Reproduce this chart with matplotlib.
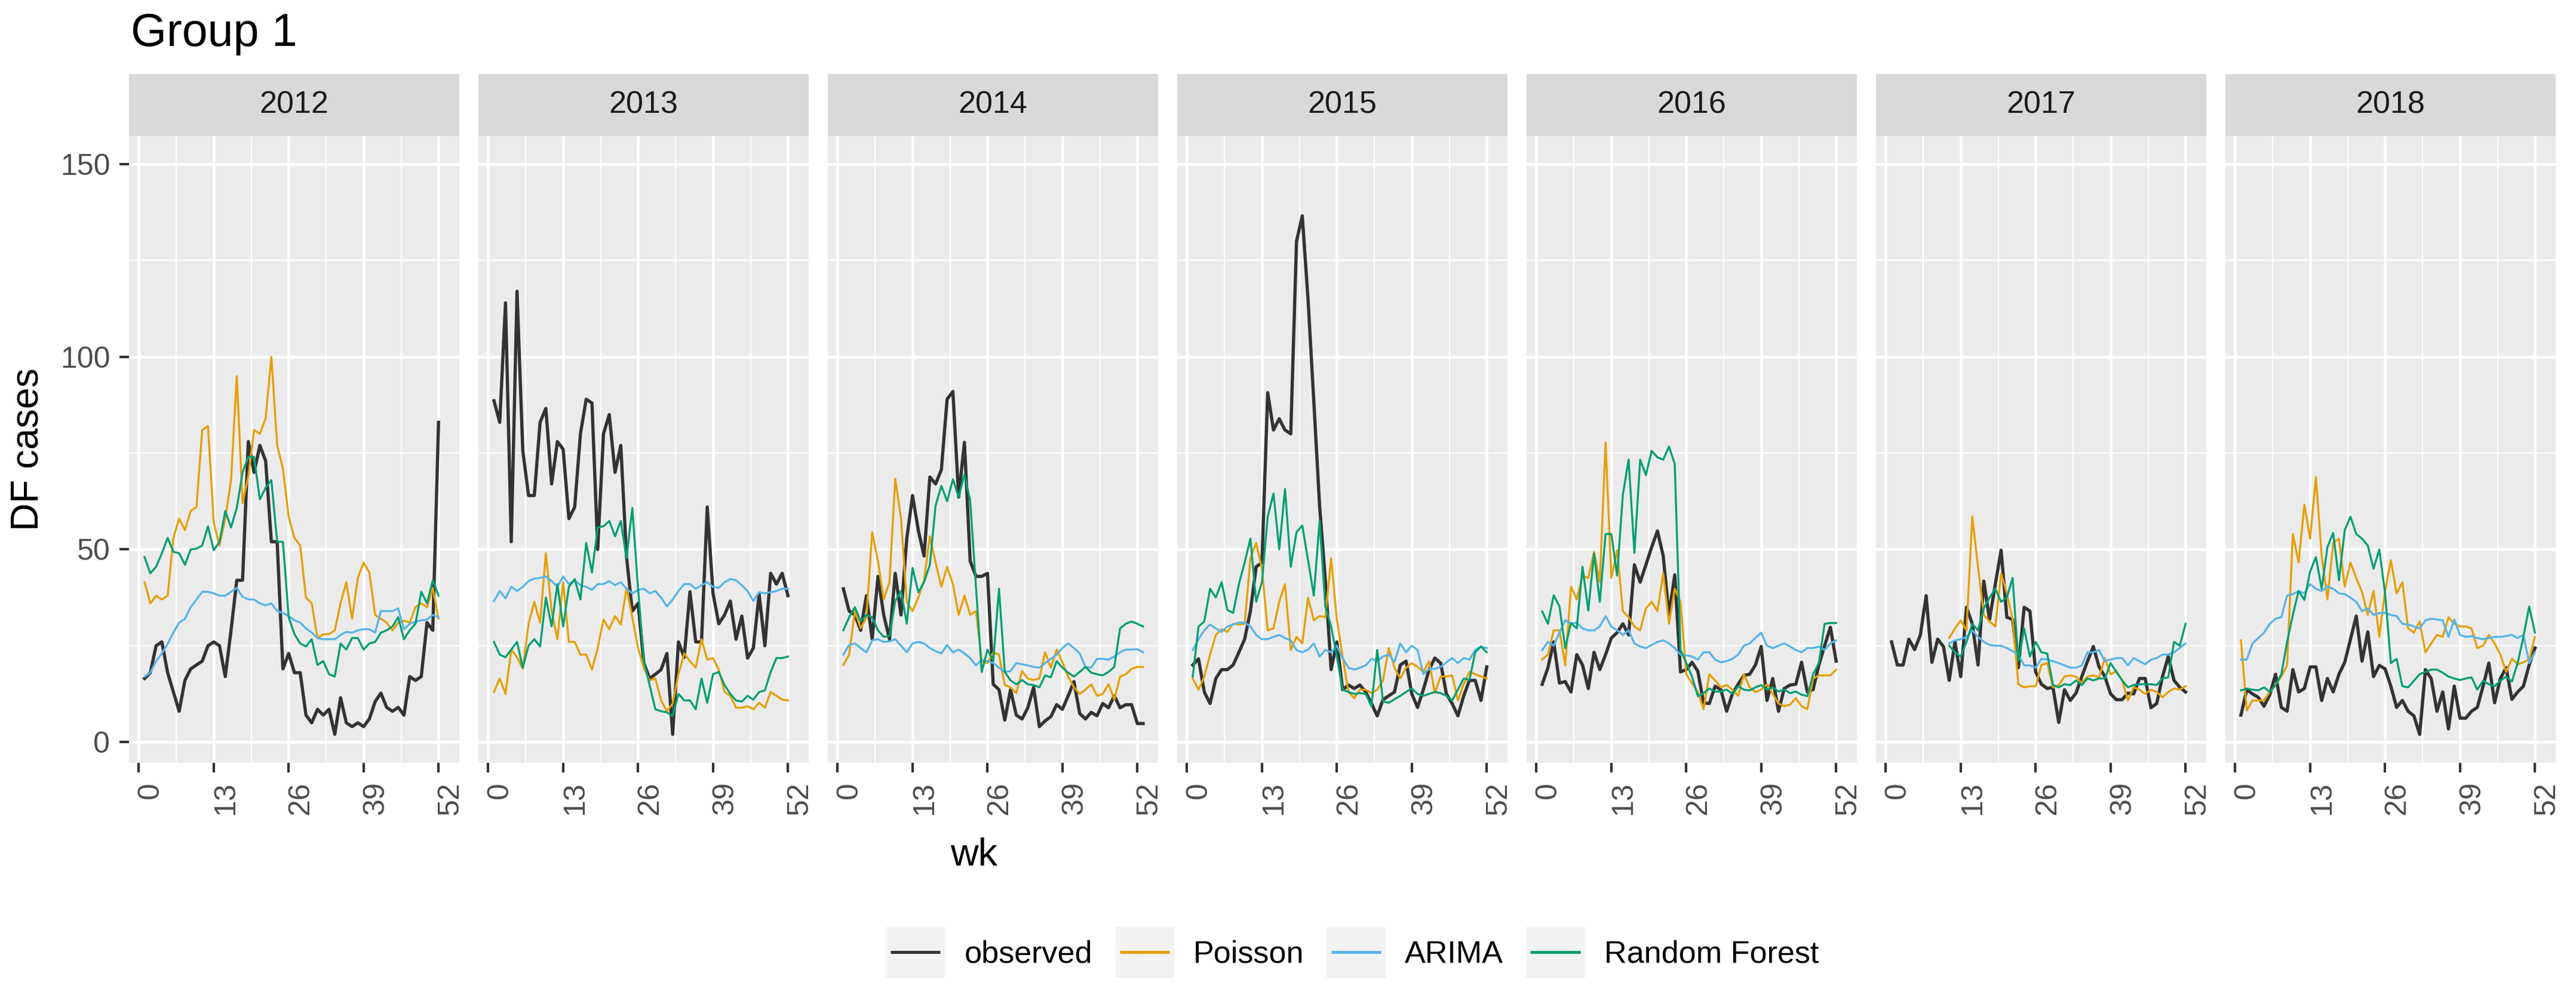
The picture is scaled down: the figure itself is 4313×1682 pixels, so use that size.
import numpy as np
import matplotlib
matplotlib.use("Agg")
import matplotlib.pyplot as plt
from matplotlib.lines import Line2D
from matplotlib.patches import Rectangle
from matplotlib.legend_handler import HandlerLine2D
from matplotlib.transforms import ScaledTranslation

plt.rcParams['font.family'] = ['Liberation Sans', 'DejaVu Sans']

# ---- data (weekly DF cases) ----
years = [2012, 2013, 2014, 2015, 2016, 2017, 2018]
series_names = ['observed', 'Poisson', 'ARIMA', 'Random Forest']
series_colors = ['#333333', '#E69F00', '#56B4E9', '#009E73']
series_widths = [1.3, 0.8, 0.8, 0.8]

observed_2012 = [16.5, 18, 25, 26, 18, 13, 8, 16, 19, 20, 21, 25, 26, 25, 17, 29, 42, 42, 78, 70,
                 77, 73, 52, 52, 19, 23, 18, 18, 7, 5, 8.5, 7, 8.5, 2, 11.5, 5, 4, 5, 4, 6,
                 10.5, 12.7, 9, 8, 9, 7, 17, 16, 17, 31, 29, 83]
poisson_2012 = [41.5, 36, 38, 37, 38, 53, 58, 55, 60, 61, 81, 82, 57, 51, 58, 68, 95, 62, 69, 81,
                80, 84, 100, 77, 71, 58.5, 53, 51, 37.5, 36, 27, 28, 28, 29, 36, 41.5, 32, 42.6, 46.6, 44,
                33, 32, 31, 29, 31, 31.5, 31, 35, 36, 35, 40, 32]
arima_2012 = [17, 18, 21, 23, 25.5, 28.4, 31, 32, 35, 37, 39, 39, 38.6, 38, 38, 39, 40, 37.7, 37, 37,
              36, 35.5, 36, 34, 33.5, 32.7, 31.6, 31, 29.5, 28.4, 27, 26.7, 26.7, 26.7, 27.8, 28.6, 28.4, 29, 29.3, 29.3,
              28.4, 34, 34, 34, 34.7, 29.3, 30.7, 31.2, 31.6, 31.8, 33, 32.4]
rf_2012 = [48, 43.8, 45.5, 49, 53, 49.4, 49, 46, 50, 50.2, 51, 56, 49.8, 52, 60, 55.7, 60.8, 70, 74, 74,
           63, 66, 68, 52, 52, 32.4, 28, 25.6, 24.8, 26.7, 20, 21, 17.6, 17, 25.6, 24, 27, 27, 24, 25.6,
           26, 28.4, 29, 30, 32.4, 26.7, 29, 30.7, 39, 36, 42, 38]

observed_2013 = [88.6, 83, 114, 52, 117, 75.6, 64, 64, 83, 86.6, 67, 78, 76, 58, 61, 80, 89, 88, 50, 80,
                 85, 70, 77, 48, 34, 36, 20.5, 16.5, 17.6, 18.8, 23, 2, 26, 22, 39, 26, 26, 61, 38.6, 30.7,
                 33, 36.6, 26.7, 32.7, 21.8, 24.4, 38.4, 25, 43.8, 41, 43.8, 38]
poisson_2013 = [13, 16.5, 12.5, 24, 22, 19, 30.7, 36.4, 31, 49, 34, 26.7, 41.5, 26, 26, 22.7, 22.7, 18.8, 24.4, 31.8,
                29.3, 32.7, 30.5, 40, 32.4, 24.4, 19.3, 16, 16.5, 10.8, 8, 10, 17.6, 23, 21, 19.3, 26.7, 21.4, 21.8, 18.8,
                13, 12, 8.9, 8.9, 9.3, 8.5, 10.2, 8.9, 13, 12, 11, 10.8]
arima_2013 = [36.6, 39.2, 37.3, 40.3, 39.2, 40.3, 41.8, 42.4, 42.6, 43, 41.8, 40.3, 43, 41, 42, 40.7, 40.3, 39.5, 41, 41,
              41.8, 40.7, 41.5, 39.8, 38.6, 39.5, 39.8, 38.6, 39.2, 37.5, 35.2, 37, 39.2, 41, 41, 39.8, 40.7, 41.5, 40.3, 40,
              41.5, 42.3, 42, 40.7, 39.2, 36.6, 38.9, 38.6, 38.9, 39.2, 39.8, 39.8]
rf_2013 = [26, 22.7, 22, 24, 26, 19.3, 25, 26.7, 24.8, 37.5, 30, 41, 30, 40.3, 42.3, 37, 51.7, 44, 55.7, 56,
           57.4, 53.4, 57.4, 47.7, 60.8, 39.8, 21, 14.8, 8.5, 8, 7.7, 6.8, 12.5, 10.8, 10.8, 8.5, 16.5, 10.2, 17.6, 18.2,
           14.8, 12.5, 10.8, 10.5, 12, 11, 13, 13.4, 18.2, 21.8, 21.8, 22.2]

observed_2014 = [39.8, 34, 33, 29, 38, 26.7, 43, 33, 26.7, 43.8, 33, 52.8, 64, 55, 48.3, 68.8, 67, 70.7, 89, 91,
                 63.6, 77.8, 47, 43, 43, 43.8, 15, 13.6, 5.7, 13.6, 7, 6, 8.9, 14.2, 4, 5.5, 6.6, 9.7, 8.5, 12,
                 15.7, 7.4, 6, 7.7, 6.8, 10, 8.9, 12, 8.9, 9.7, 9.7, 4.8, 4.8]
poisson_2014 = [20, 22.7, 34, 29.5, 32.4, 54.5, 47, 37, 41.5, 68.4, 58, 36.4, 34, 37.5, 42, 53.4, 46.6, 40.3, 45.5, 41,
                33, 38, 33, 34, 21, 20.5, 23.3, 22.7, 14.8, 14.2, 12.7, 18.4, 16.5, 16.1, 16.5, 23.3, 19.3, 24, 20.7, 17,
                14.2, 12.5, 13.6, 15, 12, 12.5, 15, 11, 17, 17.6, 19, 19.5, 19.5]
arima_2014 = [22.7, 25.2, 25.6, 24.4, 23.3, 26.4, 26.7, 26, 26.1, 26.7, 25, 23.3, 25.6, 26, 25.6, 24.4, 23.6, 23, 25.2, 23.3,
              24, 23, 21.8, 19.9, 21.4, 21, 20.5, 19.3, 18.2, 18.4, 20.5, 20.2, 19.9, 19.5, 19.3, 20.5, 21.6, 22.7, 24.4, 25.6,
              24.4, 23, 19.5, 19.3, 21.6, 21.6, 21.4, 22.2, 23.3, 24, 24, 24.1, 23.3]
rf_2014 = [29, 32.4, 35, 31.3, 33, 32.4, 29, 27.3, 27.5, 36.6, 39.2, 30.7, 45.2, 38.9, 41.5, 46, 61.4, 66.5, 62.5, 68.2,
           63.6, 69.5, 62.7, 40.3, 18.2, 24, 21, 39.8, 18.2, 16, 15, 16.1, 15, 14.8, 14.2, 17.3, 16.8, 21, 19.3, 18,
           17, 18.2, 19.5, 18, 17.6, 17.3, 18.2, 19.5, 29.5, 30.7, 31.3, 30.7, 30]

observed_2015 = [20, 21.6, 13, 10, 16.5, 18.8, 18.8, 20, 23.3, 26.7, 34, 45.5, 46.6, 90.7, 81, 83.9, 81, 80, 130, 136.6,
                 114.8, 88.4, 61.4, 42, 18.8, 26, 13.6, 14.8, 13.9, 14.8, 13, 10, 6.8, 11, 12, 13, 20, 21, 12.5, 9,
                 13.6, 18.8, 21.8, 20.5, 12.5, 10, 6.8, 12, 16, 16, 10.8, 19.5]
poisson_2015 = [16.5, 13.6, 17, 22.7, 27.8, 29.3, 28.6, 30.7, 30.5, 30.7, 47.7, 51.7, 45, 29, 29.5, 36.4, 41, 23.9, 27.3, 25.6,
                37.5, 31.6, 32.7, 32.4, 47.7, 31.8, 22.2, 13, 11.4, 13.6, 13.6, 12.7, 13.6, 16, 24.4, 19.3, 16.5, 19.3, 20.5, 19.5,
                18.2, 21, 12.7, 17, 17, 17.3, 10.8, 15, 18.2, 17.6, 17, 16.5]
arima_2015 = [23.9, 26.7, 29, 30.5, 29.5, 28.6, 30, 30.5, 31, 31, 30, 27.8, 26.7, 26.7, 27.3, 27.8, 27, 26.4, 23.9, 23.3,
              24, 25.6, 22.2, 23.9, 23.3, 25, 21.8, 19.3, 18.8, 19.3, 19.9, 21.6, 21, 22.2, 22.7, 20.8, 25.6, 23.3, 25, 23.9,
              17.6, 19, 19, 19.5, 20.7, 21.8, 20.5, 21.8, 21.4, 23.9, 24.8, 24.4]
rf_2015 = [17, 30, 31.3, 39.8, 37.5, 41.5, 34.3, 33.5, 41, 46.6, 52.8, 36.4, 41.5, 58.5, 64.5, 50, 65.7, 45.5, 54.5, 56.2,
           47.2, 38, 57.4, 35.2, 30, 22.2, 13.6, 13, 12.5, 12.7, 12.5, 9.3, 23.9, 10.5, 10.2, 11.1, 12, 13, 13.9, 12.5,
           12, 12.5, 13, 12.7, 12, 10.8, 13.6, 16.5, 16.1, 23.3, 24.8, 23.3]

observed_2016 = [15, 19.3, 26, 15.3, 15.7, 13, 22.7, 20, 13.9, 23.3, 18.8, 22.7, 27, 28.4, 30.7, 27.8, 46, 41.5, 46, 50.6,
                 54.8, 48.3, 33, 43.4, 18.2, 18.8, 20.7, 18.4, 10.2, 10, 14.5, 13.6, 8, 12.5, 15, 17.3, 17.6, 20, 24.8, 10.8,
                 16.5, 8, 13.9, 14.8, 15, 20.7, 13, 13.6, 20, 25, 29.8, 21]
poisson_2016 = [21.4, 22.7, 29, 29, 19.9, 40.3, 37, 43.2, 42.6, 49.4, 41.5, 77.8, 42.6, 49.8, 34, 32.4, 30, 29, 34.7, 36.4,
                34, 43.8, 30.7, 39.8, 36.4, 17.6, 15.3, 13, 8.5, 17.6, 16, 14.2, 14.8, 13.6, 12, 17.6, 14.2, 13, 13.6, 15,
                12.5, 10, 9.3, 9.7, 11.4, 9.3, 8.5, 16.5, 17.3, 17.3, 17.3, 18.8]
arima_2016 = [23.9, 26, 25, 28.4, 31.6, 30.7, 31, 29.5, 29, 29, 30, 32.7, 30, 29, 27.8, 29, 25.6, 24.8, 24.4, 25.2,
              26, 26.4, 25.6, 24.4, 22.7, 22.5, 22.2, 21.4, 23.3, 23.3, 21.4, 20.7, 21, 21.6, 22.7, 25, 25.6, 27, 28.4, 25,
              24.4, 25, 25.6, 24.8, 23.9, 23.3, 24.4, 24.4, 24.8, 23.9, 25.6, 26.4]
rf_2016 = [33.9, 30.7, 38.1, 35.2, 24.4, 30.9, 29.5, 45.5, 34.1, 48.9, 36.4, 54, 54, 43.2, 64.2, 73.3, 49.1, 73.3, 69.3, 75.6,
           73.9, 73.3, 76.7, 72.2, 23.9, 20.5, 17, 11.9, 12.7, 13.9, 13.1, 13.1, 13.6, 12.5, 14.5, 13.6, 13.4, 14.2, 14.8, 13.6,
           14.2, 13.1, 13.6, 12.7, 13.1, 12.3, 11.9, 17.6, 20.5, 30.7, 30.9, 30.9]

observed_2017 = [26, 20, 20, 26.7, 24, 27.8, 38, 20.7, 26.7, 24.8, 16, 26, 17, 35, 30.7, 20, 41.8, 31.8, 41, 49.8,
                 32.4, 31.8, 19.3, 35, 34, 18.2, 15, 13.9, 14.2, 5.1, 13.6, 10.8, 12.7, 17, 21, 24.8, 19.5, 17, 12.5, 11,
                 11, 12.7, 12.5, 16.5, 16.5, 8.9, 10, 17, 22.2, 16, 14.2, 13]
# model forecasts for 2017 start at week 11
poisson_2017 = [27, 29.5, 31.6, 29, 58.5, 45.5, 33, 31.3, 30, 43.8, 38.6, 31.8, 15, 14.2, 14.5, 14.5, 20, 20.5, 14.2, 14.8,
                17, 17.3, 17, 15.3, 17, 17.3, 16.8, 21.8, 17.6, 18.4, 16, 10.8, 14.2, 13.6, 12.5, 13.6, 13, 11.6, 13, 13.9,
                13.6, 14.5]
arima_2017 = [25.6, 26.4, 26.7, 27.3, 29, 27.3, 26, 25.2, 25, 25, 24.4, 23.6, 22.7, 19.9, 19.9, 19.3, 21.6, 21.4, 21, 20.5,
              19.9, 19.3, 19.3, 19.9, 23.3, 23.3, 23.9, 21, 21.4, 21.8, 21.8, 19.9, 21.8, 21, 20.2, 21.4, 21.8, 22.7, 22.7, 23.3,
              24.4, 25.6]
rf_2017 = [25, 23.3, 22.2, 26, 30.7, 29, 34.7, 37.5, 39.8, 36.4, 37.5, 42.6, 21, 29.5, 22.2, 26, 23.3, 23, 14.8, 14.2,
           15, 14.8, 16, 14.8, 16.5, 16, 16.5, 16.5, 20.5, 18.2, 16, 14.2, 14.8, 15, 15, 15, 14.8, 16.5, 16.8, 26,
           25, 30.7]

observed_2018 = [7, 13.6, 12.5, 11.6, 9.3, 12.3, 17.6, 9, 8, 18.8, 13, 13.9, 19.5, 19.5, 10.8, 16.5, 13, 17.6, 20.7, 26.7,
                 32.7, 21, 28.6, 17, 19.9, 19, 14.5, 9, 10.8, 8, 6.8, 2, 18.8, 16.5, 8, 13, 3.4, 14.5, 6.2, 6.2,
                 8, 9, 14.5, 20.5, 10.2, 16.5, 19.3, 11.1, 13, 14.5, 20, 24.4]
poisson_2018 = [26.4, 8.2, 10.8, 10.8, 10.8, 13, 14.8, 17, 19.9, 54, 46.6, 61.6, 52.8, 68.8, 48.3, 37, 51.7, 52.8, 40.3, 46.6,
                42.6, 38.9, 33, 39.2, 27.3, 39.2, 47.2, 38.6, 41.5, 29.5, 28.4, 31.3, 23.3, 25.6, 27.8, 27.3, 32.4, 30.7, 30, 30,
                29.5, 24.4, 25, 27.8, 25.6, 22.7, 18.2, 21.6, 20.2, 20.7, 21.4, 27.3]
arima_2018 = [21.4, 21.4, 25.6, 27, 28.4, 30.7, 32, 32.4, 38, 38.4, 39.2, 38.6, 41, 39.8, 39.2, 40.3, 39.8, 38.6, 38.4, 37.5,
              36.4, 34, 34.7, 33, 33.5, 33.5, 33, 32.7, 30.7, 30.5, 30, 29.5, 31.6, 32, 31.8, 31.6, 27.3, 31.8, 27.8, 27.3,
              27.5, 27, 26.7, 27, 27.3, 27.3, 27.5, 27.8, 27, 27.8, 20.5, 23.3]
rf_2018 = [13.4, 13.9, 13.6, 13.4, 14.2, 13, 14.8, 17.6, 26, 33, 39.2, 36.9, 44.3, 48, 39.8, 50.6, 54.3, 42, 55, 58.5,
           54, 52.8, 51, 45, 50, 38.6, 20.5, 21.6, 14.5, 14.2, 15.9, 17.6, 18.2, 18.8, 18.8, 18, 17, 16.5, 16.1, 16.5,
           16.8, 13.6, 15.9, 15, 14.5, 15.9, 17, 15.7, 20.5, 27.3, 35.2, 28.4]

panel_data = {
    2012: [observed_2012, poisson_2012, arima_2012, rf_2012],
    2013: [observed_2013, poisson_2013, arima_2013, rf_2013],
    2014: [observed_2014, poisson_2014, arima_2014, rf_2014],
    2015: [observed_2015, poisson_2015, arima_2015, rf_2015],
    2016: [observed_2016, poisson_2016, arima_2016, rf_2016],
    2017: [observed_2017, poisson_2017, arima_2017, rf_2017],
    2018: [observed_2018, poisson_2018, arima_2018, rf_2018],
}
x_ticks = [0, 13, 26, 39, 52]
y_ticks = [0, 50, 100, 150]

# ---- layout (pixels of the 4313x1682 output) ----
W, H = 4313, 1682
fig = plt.figure(figsize=(W / 300, H / 300), dpi=300)

panel_left, panel_w, panel_gap = 216, 553, 32
panel_top, panel_bot = 228, 1278
strip_top = 124


class KeyBox(HandlerLine2D):
    """legend key drawn ggplot-style: grey square with a line on it"""
    def create_artists(self, legend, orig_handle, xdescent, ydescent,
                       width, height, fontsize, trans):
        pad = 0.35 * height
        box = Rectangle((-xdescent, -ydescent - pad), width, height + 2 * pad,
                        facecolor='#F2F2F2', edgecolor='none', transform=trans)
        y = -ydescent + height / 2
        ln = Line2D([-xdescent + 0.08 * width, -xdescent + 0.92 * width], [y, y],
                    color=orig_handle.get_color(), lw=1.2, transform=trans,
                    solid_capstyle='butt')
        return [box, ln]


for i, yr in enumerate(years):
    x0 = panel_left + i * (panel_w + panel_gap)
    ax = fig.add_axes([x0 / W, 1 - panel_bot / H, panel_w / W, (panel_bot - panel_top) / H])
    ax.set_facecolor('#EBEBEB')
    for s in ax.spines.values():
        s.set_visible(False)

    for k, vals in enumerate(panel_data[yr]):
        start = 1
        if yr == 2017 and k > 0:
            start = 11
        wk = np.arange(start, start + len(vals))
        ax.plot(wk, vals, color=series_colors[k], lw=series_widths[k],
                solid_joinstyle='round', zorder=3)

    ax.set_xlim(-1.7, 55.6)
    ax.set_ylim(-5.4, 157.3)
    ax.set_xticks(x_ticks)
    ax.set_xticks([6.5, 19.5, 32.5, 45.5], minor=True)
    ax.set_yticks(y_ticks)
    ax.set_yticks([25, 75, 125], minor=True)
    ax.grid(which='major', color='white', lw=1.1)
    ax.grid(which='minor', color='white', lw=0.55)
    ax.set_axisbelow(True)
    ax.tick_params(which='major', length=3.8, width=1.0, color='#333333',
                   labelsize=12, labelcolor='#4D4D4D', pad=3.8)
    ax.tick_params(which='minor', length=0)
    ax.set_xticklabels([str(t) for t in x_ticks], rotation=90, va='top', ha='center')
    off = ScaledTranslation(20 / 300, 0, fig.dpi_scale_trans)
    for lab in ax.get_xticklabels():
        lab.set_transform(lab.get_transform() + off)
    if i == 0:
        ax.set_yticklabels([str(t) for t in y_ticks])
    else:
        ax.tick_params(axis='y', which='both', left=False, labelleft=False)

    # facet strip
    sax = fig.add_axes([x0 / W, 1 - panel_top / H, panel_w / W, (panel_top - strip_top) / H])
    sax.set_facecolor('#D9D9D9')
    sax.set_xticks([])
    sax.set_yticks([])
    for s in sax.spines.values():
        s.set_visible(False)
    sax.text(0.5, 0.5, str(yr), ha='center', va='center', fontsize=12.5,
             color='#1A1A1A', transform=sax.transAxes)

fig.text(219 / W, 1 - 77 / H, 'Group 1', fontsize=18.5, va='baseline', ha='left')
fig.text(47 / W, 1 - 753 / H, 'DF cases', fontsize=15.5, rotation=90, ha='center', va='center')
fig.text(1631 / W, 1 - 1433 / H, 'wk', fontsize=15.5, ha='center', va='center')

handles = [Line2D([], [], color=c, lw=w) for c, w in zip(series_colors, series_widths)]
fig.legend(handles, series_names, loc='center', bbox_to_anchor=(0.525, 0.0505),
           ncol=4, frameon=False, fontsize=12.5, handlelength=1.9, handleheight=1.1,
           handletextpad=0.62, columnspacing=0.72,
           handler_map={Line2D: KeyBox()})

fig.savefig('out.png', dpi=300)
